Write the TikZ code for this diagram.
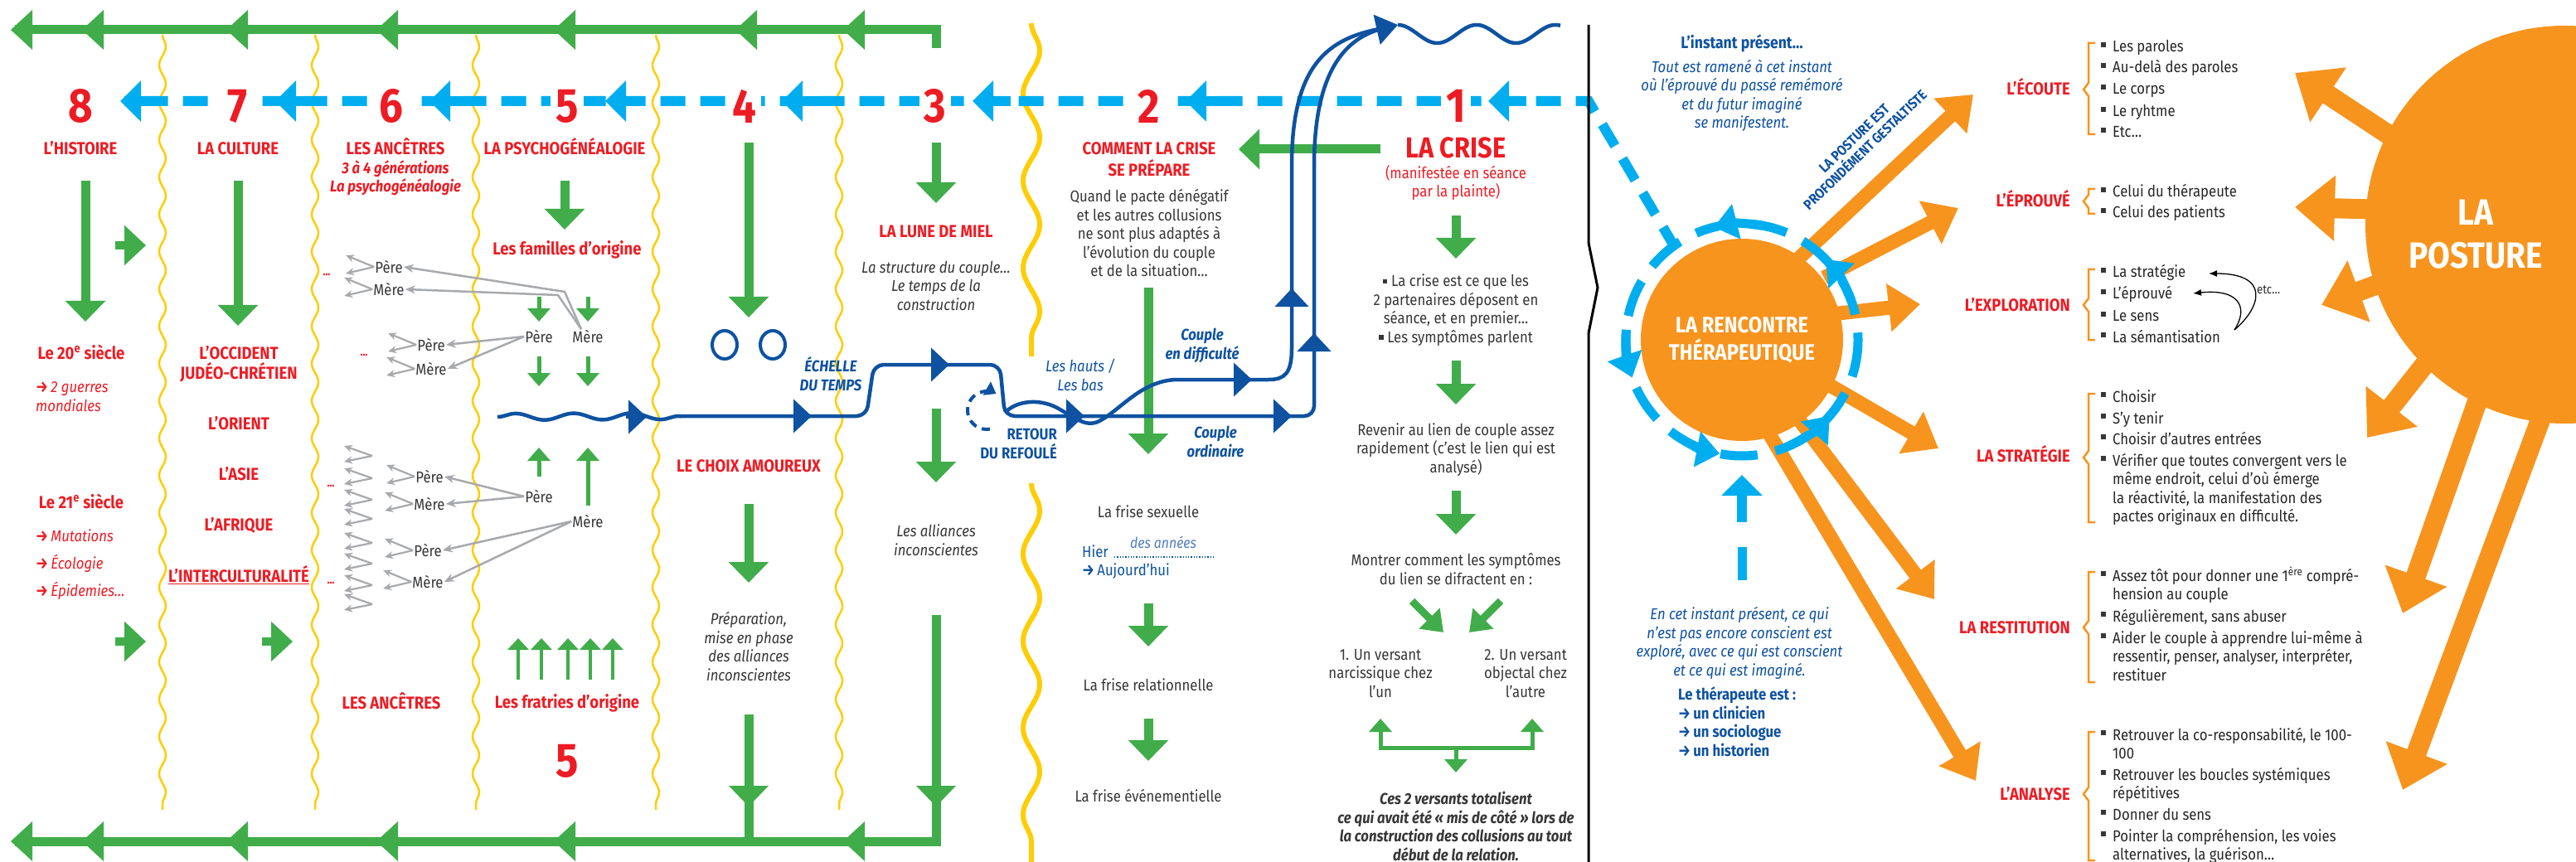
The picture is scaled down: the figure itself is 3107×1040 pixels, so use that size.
\documentclass[tikz,border=0pt]{standalone}
\usepackage{fontspec}
\setmainfont{Fira Sans}[FakeStretch=0.88]
\usepackage{tikz}
\usetikzlibrary{arrows.meta,decorations.pathmorphing,positioning}

\definecolor{vert}{RGB}{64,173,74}
\definecolor{rouge}{RGB}{237,28,36}
\definecolor{bleuclair}{RGB}{0,174,239}
\definecolor{bleu}{RGB}{14,82,161}
\definecolor{bleupale}{RGB}{80,125,190}
\definecolor{orangep}{RGB}{247,148,30}
\definecolor{jaune}{RGB}{255,205,5}
\definecolor{gris}{RGB}{167,169,172}
\definecolor{texte}{RGB}{55,55,55}

\newcommand\sq{\rule[0.18em]{0.28em}{0.28em}\hspace{0.25em}}
\newcommand\fl{{\upshape\bfseries →}\,}

\begin{document}
\begin{tikzpicture}[x=1pt,y=-1pt,
  vline/.style={vert,line width=11pt},
  varrow/.style={vert,line width=11pt,-{Triangle[width=47pt,length=25pt]}},
  vpetit/.style={vert,line width=5pt,-{Triangle[width=27pt,length=16pt]}},
  vfin/.style={vert,line width=4pt,-{Triangle[width=25pt,length=14pt]}},
  vdiag/.style={vert,line width=9pt,-{Triangle[width=34pt,length=24pt]}},
  cdash/.style={bleuclair,line width=12pt,dash pattern=on 30pt off 18pt},
  carrow/.style={bleuclair,line width=12pt,-{Triangle[width=48pt,length=25pt]}},
  ringarrow/.style={bleuclair,line width=11pt,-{Triangle[width=42pt,length=28pt]}},
  bline/.style={bleu,line width=4.5pt},
  barrow/.style={bleu,line width=4.5pt,-{Triangle[width=40pt,length=22pt]}},
  oarrow/.style={orangep,line width=17pt,-{Triangle[width=56pt,length=38pt]}},
  parrow/.style={orangep,line width=24pt,-{Triangle[width=76pt,length=48pt]}},
  onde/.style={jaune,line width=2.5pt,decorate,decoration={snake,segment length=45pt,amplitude=4pt}},
  ondeforte/.style={jaune,line width=6pt,decorate,decoration={snake,segment length=105pt,amplitude=10pt}},
  grisarrow/.style={gris,line width=2.5pt,-{Stealth[length=12pt,width=10pt]}},
  grisfork/.style={gris,line width=2.2pt,-{Stealth[length=10pt,width=9pt]}},
  num/.style={text=rouge,font=\fontsize{58}{60}\selectfont\bfseries,fill=white,inner sep=6pt},
  titre/.style={text=rouge,font=\fontsize{21}{24}\selectfont\bfseries,align=center,anchor=base,inner sep=0pt},
  titrer/.style={titre,anchor=base east},
  sstitre/.style={titre,font=\fontsize{19}{22.5}\selectfont\bfseries\itshape},
  rougeit/.style={text=rouge,font=\fontsize{19}{22.5}\selectfont\itshape,align=left,anchor=base west,inner sep=0pt},
  corps/.style={text=texte,font=\fontsize{19}{22.5}\selectfont,align=center,anchor=base,inner sep=0pt},
  corpsit/.style={corps,font=\fontsize{19}{22.5}\selectfont\itshape},
  bleut/.style={text=bleu,font=\fontsize{19}{22.5}\selectfont\bfseries\itshape,align=center,anchor=base,inner sep=0pt},
  parent/.style={text=texte,font=\fontsize{19}{22}\selectfont,inner sep=1pt},
  points/.style={text=rouge,font=\fontsize{14}{14}\selectfont\bfseries,inner sep=0pt},
  liste/.style={text=texte!70!black,font=\fontsize{19}{22.5}\selectfont,align=left,anchor=base west,inner sep=0pt},
  blanc/.style={text=white,font=\fontsize{27}{33}\selectfont\bfseries,align=center,anchor=base,inner sep=0pt}
]
\path[use as bounding box] (0,0) rectangle (3107,1040);
\clip (0,0) rectangle (3107,1040);
\fill[white] (0,0) rectangle (3107,1040);

% lignes jaunes
\foreach \x in {196,380,574,791,1012}
  \draw[onde] (\x,42) -- (\x,977);
\draw[ondeforte] (1244,28) -- (1244,430);
\draw[ondeforte] (1244,583) -- (1244,1040);

% frises vertes
\draw[vline] (1129,58) -- (1129,36) -- (18,36);
\foreach \x in {13,99,273,454,668,887,1017}
  \fill[vert] (\x,36) -- ++(26,-24) -- ++(0,48) -- cycle;
\draw[vline] (1129,742) -- (1129,1015) -- (18,1015);
\draw[vline] (903,862) -- (903,1015);
\foreach \x in {13,99,273,454,668,1017}
  \fill[vert] (\x,1015) -- ++(26,-24) -- ++(0,48) -- cycle;
\foreach \x in {903,1129}
  \fill[vert] (\x,973) -- ++(-24,-25) -- ++(48,0) -- cycle;

% fleches vertes
\draw[varrow] (103,218) -- (103,388);
\draw[varrow] (287,218) -- (287,393);
\draw[varrow] (681,218) -- (681,277);
\draw[varrow] (903,172) -- (903,383);
\draw[varrow] (903,608) -- (903,703);
\draw[varrow] (1129,172) -- (1129,245);
\draw[varrow] (1129,493) -- (1129,582);
\draw[varrow] (1385,347) -- (1385,548);
\draw[varrow] (1385,728) -- (1385,780);
\draw[varrow] (1385,867) -- (1385,918);
\draw[varrow] (1756,260) -- (1756,312);
\draw[varrow] (1756,435) -- (1756,488);
\draw[varrow] (1756,592) -- (1756,645);
\draw[varrow] (1665,180) -- (1494,180);
\foreach \x/\y in {139/296,139/774,316/774}
  \draw[vert,line width=10pt,-{Triangle[width=47pt,length=26pt]}] (\x,\y) -- (\x+37,\y);
\draw[vpetit] (650,358) -- (650,388);
\draw[vpetit] (709,358) -- (709,388);
\draw[vpetit] (650,430) -- (650,466);
\draw[vpetit] (709,430) -- (709,466);
\draw[vpetit] (650,575) -- (650,540);
\draw[vpetit] (709,610) -- (709,540);
\foreach \x in {625,653,685,712,739}
  \draw[vfin] (\x,820) -- (\x,770);
\draw[vdiag] (1703,725) -- (1741,763);
\draw[vdiag] (1810,725) -- (1772,763);
\draw[vert,line width=5pt,{Triangle[width=27pt,length=16pt]}-{Triangle[width=27pt,length=16pt]}]
  (1665,867) -- (1665,902) -- (1848,902) -- (1848,867);
\draw[vpetit] (1756,902) -- (1756,932);

% ligne pointillee bleu clair et numeros
\draw[cdash] (2021,300) -- (1916,122) -- (150,122);
\node[num] (n8) at (97,128) {8};
\node[num] (n7) at (286,128) {7};
\node[num] (n6) at (472,128) {6};
\node[num] (n5) at (684,128) {5};
\node[num] (n4) at (898,128) {4};
\node[num] (n3) at (1128,128) {3};
\node[num] (n2) at (1386,128) {2};
\node[num] (n1) at (1756,128) {1};
\foreach \x in {145,332,518,730,943,1173,1430,1795}
  \draw[carrow] (\x+46,122) -- (\x,122);

% separation
\draw[black,line width=3pt] (1916,30) -- (1916,293) -- (1927,347) -- (1916,402) -- (1916,1040);

% echelle du temps
\draw[bline,decorate,decoration={snake,segment length=70pt,amplitude=4pt}] (600,503) -- (821,502);
\draw[bline,rounded corners=12pt] (820,502) -- (1045,502) -- (1054,440) -- (1206,440) -- (1212,502) -- (1585,502) -- (1585,200);
\draw[bline] (1585,200) .. controls (1585,90) and (1620,45) .. (1670,34);
\draw[bline] (1212,498) .. controls (1225,484) and (1252,480) .. (1275,492)
  .. controls (1298,505) and (1310,516) .. (1326,508)
  .. controls (1352,494) and (1376,460) .. (1418,458) -- (1530,458)
  .. controls (1550,458) and (1558,450) .. (1558,420) -- (1558,200)
  .. controls (1558,80) and (1600,45) .. (1670,34);
\draw[bline,-{Triangle[width=36pt,length=26pt]}] (1655,37) -- (1686,30);
\draw[bline] plot[domain=0:196,samples=80,smooth] ({1686+\x},{41-11*cos(\x*3.79)});
\foreach \a/\b/\c/\d in {755/503/780/503,955/502/979/502,1120/440/1145/440,1285/502/1308/502,
    1535/502/1558/502,1485/458/1510/458,1558/375/1558/348,1585/430/1585/402}
  \draw[barrow] (\a,\b) -- (\c,\d);
\draw[bleu,line width=4pt,dash pattern=on 10pt off 7pt,-{Triangle[width=18pt,length=13pt]}]
  ([shift={(-280:23)}]1190,495) arc[start angle=-280,end angle=-60,radius=23];
\draw[bleu,line width=4pt] (874,416) ellipse[x radius=15,y radius=17];
\draw[bleu,line width=4pt] (932,416) ellipse[x radius=15,y radius=17];
\draw[bleu,line width=1.3pt,dotted] (1344,672) -- (1466,672);

% genealogie
\node[parent] (P5a) at (650,406) {Père};
\node[parent] (M5a) at (709,406) {Mère};
\node[parent] (P5b) at (650,599) {Père};
\node[parent] (M5b) at (709,629) {Mère};
\node[parent] (P6a) at (469,322) {Père};
\node[parent] (M6a) at (469,349) {Mère};
\node[parent] (P6b) at (520,416) {Père};
\node[parent] (M6b) at (520,445) {Mère};
\node[parent] (P6c) at (518,575) {Père};
\node[parent] (M6c) at (518,608) {Mère};
\node[parent] (P6d) at (516,664) {Père};
\node[parent] (M6d) at (516,702) {Mère};
\draw[grisarrow] ([xshift=-8pt]M5a.north) -- (681,352) -- (P6a.east);
\draw[grisarrow] ([xshift=-8pt]M5a.north) -- (673,356) -- (M6a.east);
\foreach \a/\b in {P5a/P6b,P5a/M6b,P5b/P6c,P5b/M6c,M5b/P6d,M5b/M6d}
  \draw[grisarrow] (\a.west) -- (\b.east);
\foreach \n in {P6a,M6a,P6b,M6b,P6c,M6c,P6d,M6d} {
  \draw[grisfork] (\n.west) -- ++(-34,-14);
  \draw[grisfork] (\n.west) -- ++(-34,8);
}
\foreach \y in {550,577,603,626,655,680,706,729} {
  \draw[grisfork] (449,\y) -- ++(-34,-12);
  \draw[grisfork] (449,\y) -- ++(-34,7);
}
\foreach \p in {(394,331),(439,428),(399,586),(399,703)}
  \node[points] at \p {...};

% textes colonnes 8 a 5 (ancre : ligne de base de la derniere ligne)
\node[titre] (histoire) at (97,187) {L’HISTOIRE};
\node[titre] (siecle20) at (98,433) {Le 20\textsuperscript{e} siècle};
\node[rougeit] (guerres) at (43,496) {\fl 2 guerres\\mondiales};
\node[titre] (siecle21) at (98,613) {Le 21\textsuperscript{e} siècle};
\node[rougeit] (mutations) at (43,653) {\fl Mutations};
\node[rougeit] (ecologie) at (43,686) {\fl Écologie};
\node[rougeit] (epidemies) at (43,719) {\fl Épidemies…};
\node[titre] (culture) at (287,187) {LA CULTURE};
\node[titre] (occident) at (288,457) {L’OCCIDENT\\JUDÉO-CHRÉTIEN};
\node[titre] (orient) at (288,518) {L’ORIENT};
\node[titre] (asie) at (288,579) {L’ASIE};
\node[titre] (afrique) at (288,640) {L’AFRIQUE};
\node[titre] (intercult) at (288,702) {\underline{L’INTERCULTURALITÉ}};
\node[titre] (ancetres) at (477,187) {LES ANCÊTRES};
\node[sstitre] (generations) at (477,232) {3 à 4 générations\\La psychogénéalogie};
\node[titre] (ancetresbas) at (472,855) {LES ANCÊTRES};
\node[titre] (psycho) at (681,187) {LA PSYCHOGÉNÉALOGIE};
\node[titre] (familles) at (684,308) {Les familles d’origine};
\node[titre] (fratries) at (684,854) {Les fratries d’origine};
\node[num,fill=none] (n5bas) at (684,918) {5};

% colonnes 4 a 2
\node[titre] (choix) at (903,569) {LE CHOIX AMOUREUX};
\node[corpsit] (preparation) at (903,821) {Préparation,\\mise en phase\\des alliances\\inconscientes};
\node[bleut] (echelle) at (1002,471) {ÉCHELLE\\DU TEMPS};
\node[titre] (lune) at (1129,287) {LA LUNE DE MIEL};
\node[corpsit] (structure) at (1129,374) {La structure du couple…\\Le temps de la\\construction};
\node[corpsit] (alliances) at (1129,670) {Les alliances\\inconscientes};
\node[titre,font=\fontsize{21}{26}\selectfont\bfseries] (prepare) at (1386,213) {COMMENT LA CRISE\\SE PRÉPARE};
\node[corps] (pacte) at (1386,334) {Quand le pacte dénégatif\\et les autres collusions\\ne sont plus adaptés à\\l’évolution du couple\\et de la situation…};
\node[bleut,font=\fontsize{19}{22.5}\selectfont\itshape] (hauts) at (1303,471) {Les hauts /\\Les bas};
\node[bleut,font=\fontsize{19}{23}\selectfont\bfseries,align=right,anchor=base east] (retour) at (1275,553) {RETOUR\\DU REFOULÉ};
\node[bleut] (difficulte) at (1450,433) {Couple\\en difficulté};
\node[bleut] (ordinaire) at (1466,551) {Couple\\ordinaire};
\node[corps] (sexuelle) at (1385,624) {La frise sexuelle};
\node[corps,text=bleu,anchor=base west] (hier) at (1305,672) {Hier};
\node[corps,text=bleupale,font=\fontsize{18}{22}\selectfont\itshape] (annees) at (1403,661) {des années};
\node[corps,text=bleu,anchor=base west] (aujourdhui) at (1305,694) {\fl Aujourd’hui};
\node[corps] (relationnelle) at (1385,833) {La frise relationnelle};
\node[corps] (evenement) at (1385,967) {La frise événementielle};

% colonne 1
\node[titre,font=\fontsize{35}{36}\selectfont\bfseries] (crise) at (1756,191) {LA CRISE};
\node[corps,text=rouge] (plainte) at (1756,238) {(manifestée en séance\\par la plainte)};
\node[corps] (deposent) at (1756,413) {\sq La crise est ce que les\\2 partenaires déposent en\\séance, et en premier…\\\sq Les symptômes parlent};
\node[corps] (revenir) at (1756,570) {Revenir au lien de couple assez\\rapidement (c’est le lien qui est\\analysé)};
\node[corps] (montrer) at (1756,705) {Montrer comment les symptômes\\du lien se difractent en :};
\node[corps] (narcissique) at (1665,841) {1. Un versant\\narcissique chez\\l’un};
\node[corps] (objectal) at (1840,841) {2. Un versant\\objectal chez\\l’autre};
\node[corps,font=\fontsize{19}{22.5}\selectfont\bfseries\itshape] (totalisent) at (1756,1038) {Ces 2 versants totalisent\\ce qui avait été « mis de côté » lors de\\la construction des collusions au tout\\début de la relation.};

% la rencontre therapeutique
\draw[oarrow] (2150,330) -- (2380,114);
\draw[oarrow] (2200,335) -- (2362,251);
\draw[oarrow] (2200,380) -- (2316,367);
\draw[oarrow] (2190,455) -- (2338,541);
\draw[oarrow] (2150,480) -- (2333,723);
\draw[oarrow] (2120,500) -- (2383,942);
\fill[orangep] (2101,410) circle[radius=122];
\draw[bleuclair,line width=11pt,dash pattern=on 45pt off 22pt] (2101,410) circle[radius=140];
\foreach \a in {-80,-20,-175,-235,-295}
  \draw[ringarrow] ([shift={(\a:140)}]2101,410) arc[start angle=\a,end angle=\a-24,radius=140];
\draw[bleuclair,line width=11pt] (2101,660) -- (2101,700);
\draw[carrow] (2101,630) -- (2101,573);
\node[blanc] (rencontre) at (2101,434) {LA RENCONTRE\\THÉRAPEUTIQUE};
\node[bleut,font=\fontsize{20}{24}\selectfont\bfseries] (instant) at (2101,59) {L’instant présent…};
\node[bleut,font=\fontsize{19}{22.5}\selectfont\itshape] (ramene) at (2101,155) {Tout est ramené à cet instant\\où l’éprouvé du passé remémoré\\et du futur imaginé\\se manifestent.};
\node[bleut,font=\fontsize{17}{19}\selectfont\bfseries,anchor=center,rotate=44] (gestalt) at (2243,174) {LA POSTURE EST\\PROFONDÉMENT GESTALTISTE};
\node[bleut,font=\fontsize{19}{22.5}\selectfont\itshape] (conscient) at (2098,815) {En cet instant présent, ce qui\\n’est pas encore conscient est\\exploré, avec ce qui est conscient\\et ce qui est imaginé.};
\node[bleut,font=\fontsize{19}{22.5}\selectfont\bfseries,align=left,anchor=base west] (therapeute) at (2024,912) {Le thérapeute est :\\\fl un clinicien\\\fl un sociologue\\\fl un historien};

% la posture
\draw[parrow] (2900,175) -- (2768,88);
\draw[parrow] (2880,253) -- (2768,250);
\draw[parrow] (2890,335) -- (2800,368);
\draw[parrow] (2940,420) -- (2855,528);
\draw[parrow] (3000,450) -- (2898,740);
\draw[parrow] (3085,450) -- (2898,953);
\fill[orangep] (3093,271) circle[radius=240];
\node[blanc,font=\fontsize{44}{52}\selectfont\bfseries] (posture) at (2986,324) {LA\\POSTURE};

% listes
\newcommand\crochet[3]{\draw[orangep,line width=2.5pt] (2527,#1) -- (2519,#1) -- (2519,#3-8) -- (2513,#3) -- (2519,#3+8) -- (2519,#2) -- (2527,#2);}
\crochet{52}{162}{108}
\crochet{228}{258}{243}
\crochet{325}{410}{368}
\crochet{475}{630}{552}
\crochet{690}{823}{757}
\crochet{883}{1038}{958}
\node[titrer] (ecoute) at (2497,115) {L’ÉCOUTE};
\node[titrer] (eprouve) at (2497,250) {L’ÉPROUVÉ};
\node[titrer] (exploration) at (2497,375) {L’EXPLORATION};
\node[titrer] (strategie) at (2497,557) {LA STRATÉGIE};
\node[titrer] (restitution) at (2497,764) {LA RESTITUTION};
\node[titrer] (analyse) at (2497,965) {L’ANALYSE};
\foreach \y/\n/\t in {63/1/{Les paroles},88/1/{Au-delà des paroles},114/1/{Le corps},141/1/{Le ryhtme},166/1/{Etc…},
    238/1/{Celui du thérapeute},263/1/{Celui des patients},
    335/1/{La stratégie},361/1/{L’éprouvé},388/1/{Le sens},413/1/{La sémantisation},
    485/1/{Choisir},511/1/{S’y tenir},536/1/{Choisir d’autres entrées},
    562/4/{Vérifier que toutes convergent vers le\\même endroit, celui d’où émerge\\la réactivité, la manifestation des\\pactes originaux en difficulté.},
    701/2/{Assez tôt pour donner une 1\textsuperscript{ère} compré-\\hension au couple},750/1/{Régulièrement, sans abuser},
    776/3/{Aider le couple à apprendre lui-même à\\ressentir, penser, analyser, interpréter,\\restituer},
    893/2/{Retrouver la co-responsabilité, le 100-\\100},941/2/{Retrouver les boucles systémiques\\répétitives},
    989/1/{Donner du sens},1015/2/{Pointer la compréhension, les voies\\alternatives, la guérison…}} {
  \fill[texte] (2534,\y-12) rectangle ++(6,6);
  \node[liste] at (2548,{\y+(\n-1)*22.5}) {\t};
}
\draw[black,line width=1.3pt,-{Latex[length=10pt,width=8pt]}] (2695,398) .. controls (2728,370) and (2738,330) .. (2664,330);
\draw[black,line width=1.3pt,-{Latex[length=10pt,width=8pt]}] (2695,398) .. controls (2712,372) and (2702,348) .. (2645,354);
\node[liste,font=\fontsize{15}{18}\selectfont] (etc) at (2722,355) {etc…};
\end{tikzpicture}
\end{document}
